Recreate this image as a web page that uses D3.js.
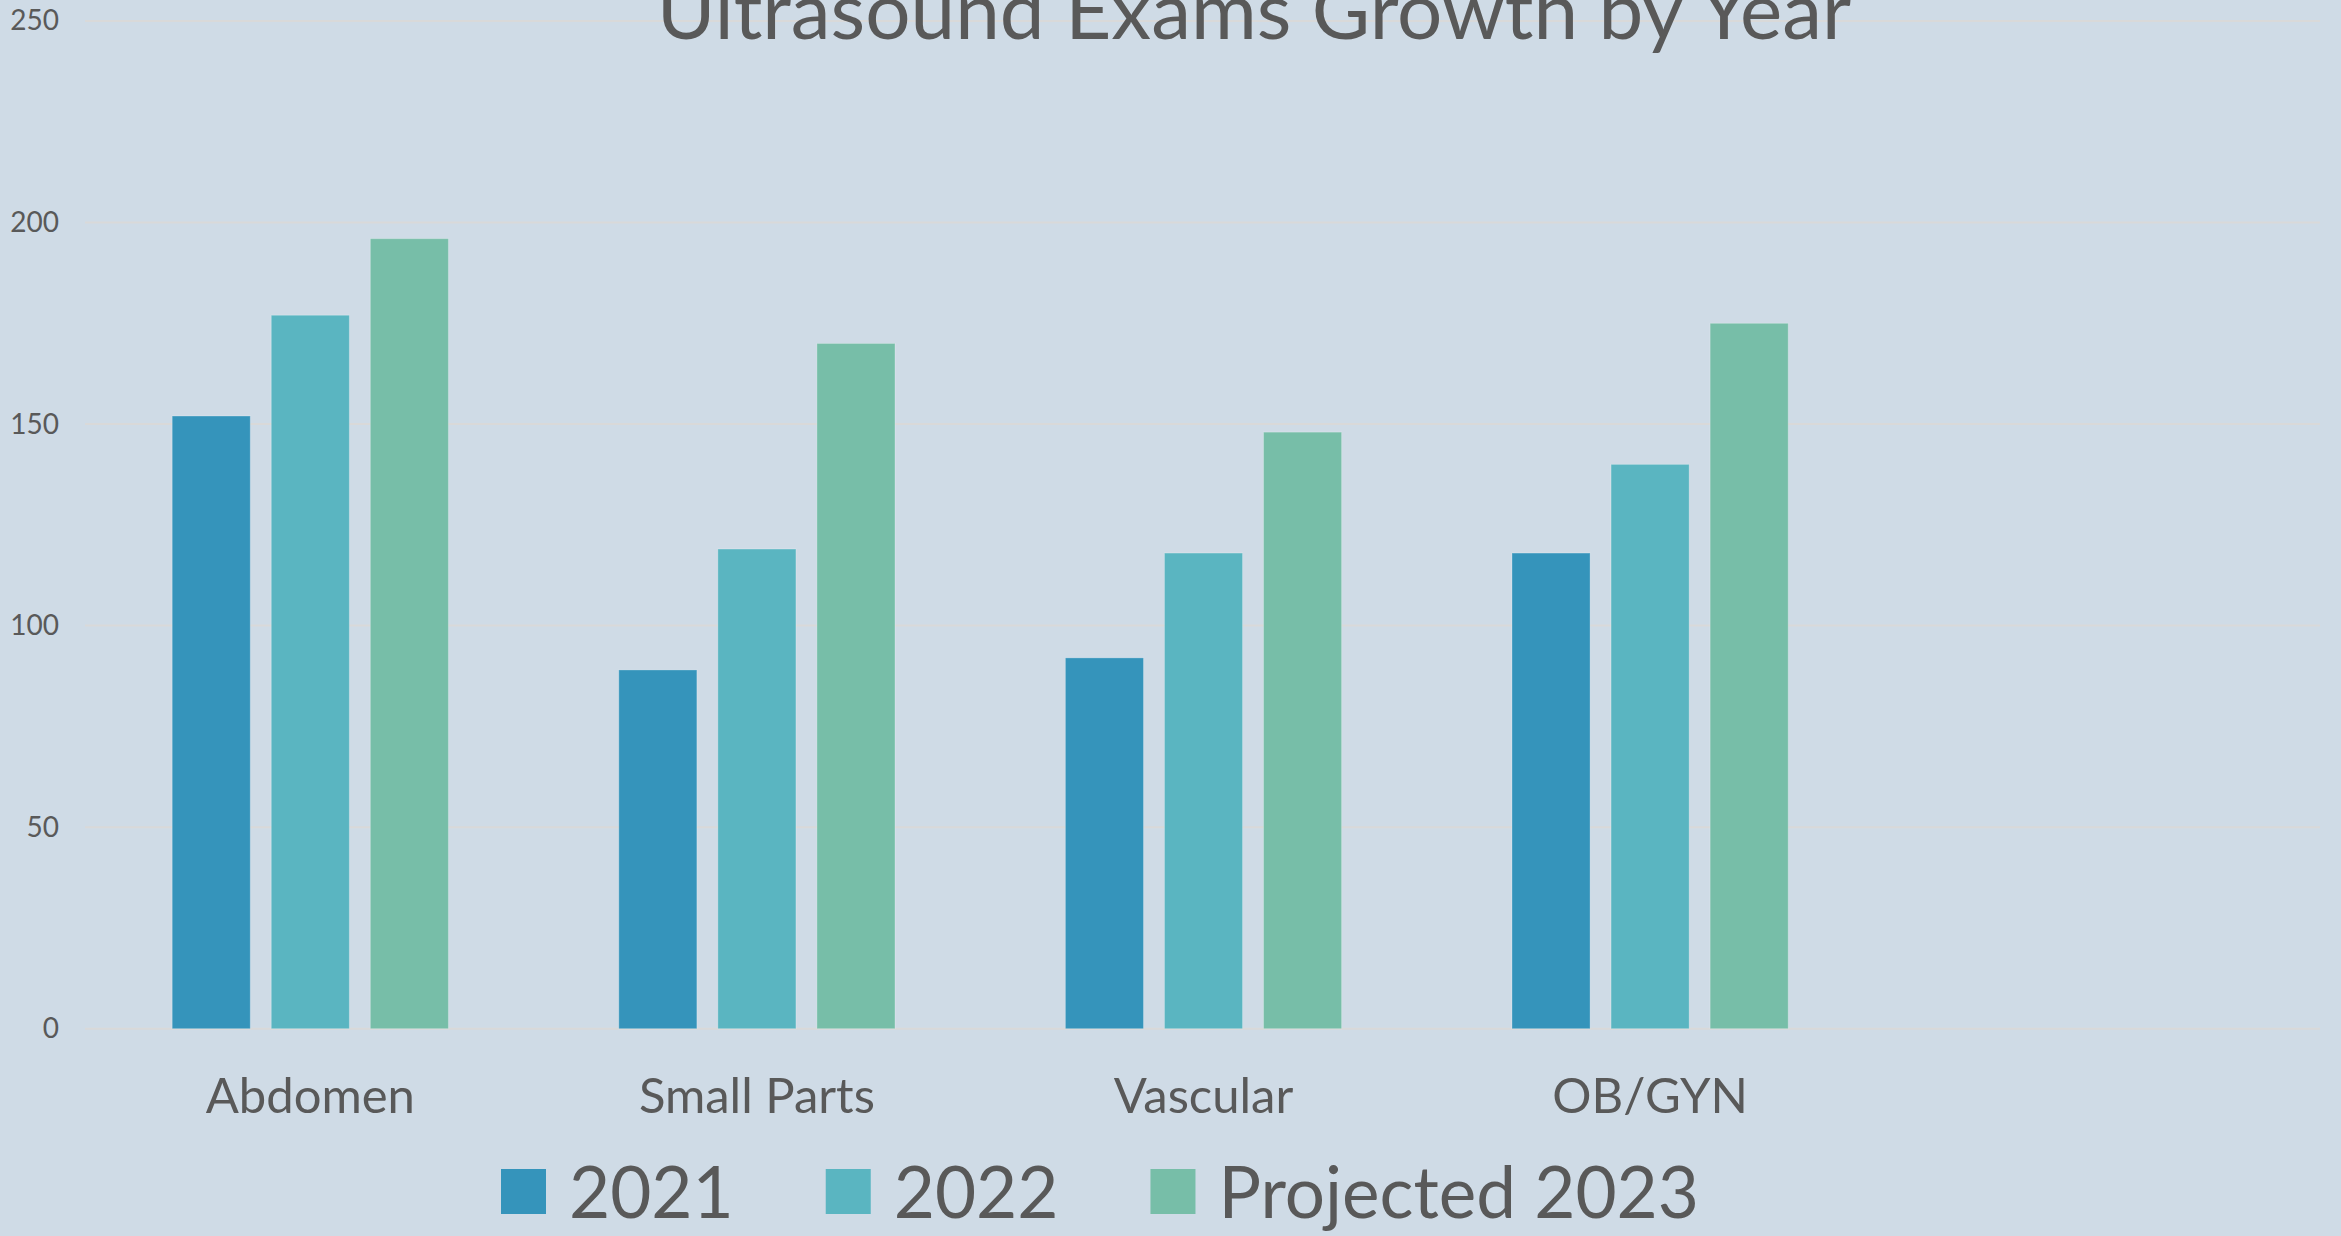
<!DOCTYPE html>
<html><head><meta charset="utf-8">
<script src="https://cdn.jsdelivr.net/npm/d3@7"></script>
<style>
body{margin:0;background:#CFDBE6;overflow:hidden}
text{font-family:Lato,"Open Sans",sans-serif;fill:#595959}
</style></head>
<body><svg id="chart" width="2341" height="1236"></svg>
<script>
const title = "Ultrasound Exams Growth by Year";
const categories = ["Abdomen", "Small Parts", "Vascular", "OB/GYN"];
const seriesNames = ["2021", "2022", "Projected 2023"];
const values2021 = [152, 89, 92, 118];
const values2022 = [177, 119, 118, 140];
const values2023 = [196, 170, 148, 175];
const yTicks = [0, 50, 100, 150, 200, 250];
const colors = ["#3594BB", "#5AB5C1", "#77BEA8"];

const series = [values2021, values2022, values2023];
const slots = categories.length + 1; // chart leaves one empty slot on the right

const svg = d3.select("#chart");
svg.append("rect").attr("width", 2341).attr("height", 1236).attr("fill", "#CFDBE6");

const x0 = d3.scaleBand().domain(d3.range(slots)).range([87, 2320]).padding(0);
const x1 = d3.scaleBand().domain(seriesNames).range([0, x0.bandwidth()])
  .paddingInner(0.212).paddingOuter(0.86);
const y = d3.scaleLinear().domain([0, 250]).range([1028.7, 21]);

// gridlines
svg.append("g").selectAll("line").data(yTicks).join("line")
  .attr("x1", 85).attr("x2", 2320)
  .attr("y1", d => y(d)).attr("y2", d => y(d))
  .attr("stroke", "#D9D9D9").attr("stroke-width", 2);

// y axis labels
const yAxis = d3.axisLeft(y).tickValues(yTicks).tickSize(0).tickPadding(0);
const gy = svg.append("g").attr("transform", "translate(59,0)").call(yAxis);
gy.select(".domain").remove();
gy.selectAll("text").attr("font-size", 28).style("font-family", "Lato").attr("fill", "#595959");

// bars
const groups = svg.append("g").selectAll("g").data(categories).join("g")
  .attr("transform", (d, i) => `translate(${x0(i)},0)`);
groups.selectAll("rect").data((d, i) => seriesNames.map((s, k) => ({s, k, v: series[k][i]})))
  .join("rect")
  .attr("x", d => x1(d.s)).attr("width", x1.bandwidth())
  .attr("y", d => y(d.v)).attr("height", d => y(0) - y(d.v))
  .attr("fill", d => colors[d.k])
  .attr("stroke", "rgba(255,255,255,0.25)").attr("stroke-width", 1);

// category labels
const xAxis = d3.axisBottom(d3.scaleBand().domain(categories)
  .range([x0(0), x0(categories.length)])).tickSize(0).tickPadding(0);
const gx = svg.append("g").attr("transform", "translate(0,1078)").call(xAxis);
gx.select(".domain").remove();
gx.selectAll("text").attr("font-size", 49).style("font-family", "Lato").attr("fill", "#595959")
  .attr("dy", "0.71em");

// title
svg.append("text").attr("x", 1254).attr("y", 39).attr("text-anchor", "middle")
  .attr("font-size", 80).text(title);

// legend
const legend = svg.append("g");
let lx = 501;
seriesNames.forEach((s, k) => {
  legend.append("rect").attr("x", lx).attr("y", 1169).attr("width", 45).attr("height", 45)
    .attr("fill", colors[k]);
  const t = legend.append("text").attr("x", lx + 68).attr("y", 1218)
    .attr("font-size", 71).text(s);
  lx = lx + 68 + t.node().getComputedTextLength() + 92;
});
</script></body></html>
